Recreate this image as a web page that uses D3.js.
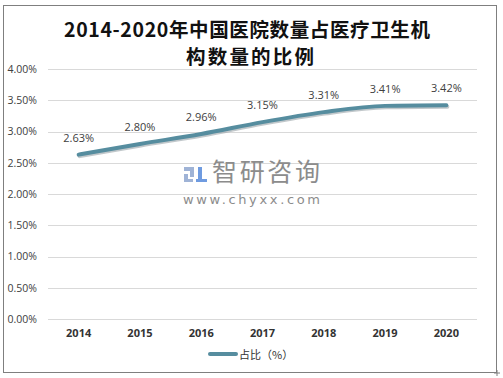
<!DOCTYPE html>
<html>
<head>
<meta charset="utf-8">
<script src="https://cdn.jsdelivr.net/npm/d3@7"></script>
<style>
  body { margin: 0; background: #fff; }
  svg { display: block; }
</style>
</head>
<body>
<div id="chart"></div>
<script>
// data
var years = ["2014", "2015", "2016", "2017", "2018", "2019", "2020"];
var ratio = [2.63, 2.80, 2.96, 3.15, 3.31, 3.41, 3.42];
var yTicks = [0, 0.5, 1, 1.5, 2, 2.5, 3, 3.5, 4];
var seriesName = "占比（%）";

var W = 503, H = 378;
var svg = d3.select("#chart").append("svg")
    .attr("width", W)
    .attr("height", H);

// outer frame
svg.append("rect")
    .attr("x", 3.5).attr("y", 5.5)
    .attr("width", 493).attr("height", 367)
    .attr("fill", "#fff")
    .attr("stroke", "#7f7f7f")
    .attr("stroke-width", 1);

// title, two lines
var title = svg.append("g")
    .attr("font-family", "'Noto Sans CJK SC', serif")
    .attr("font-weight", "bold")
    .attr("font-size", 19.5)
    .attr("fill", "#111")
    .attr("text-anchor", "middle");
title.append("text")
    .attr("x", 247).attr("y", 37)
    .attr("textLength", 366)
    .attr("lengthAdjust", "spacing")
    .text("2014-2020年中国医院数量占医疗卫生机");
title.append("text")
    .attr("x", 250).attr("y", 64)
    .attr("textLength", 128)
    .attr("lengthAdjust", "spacing")
    .text("构数量的比例");

var x = d3.scaleBand().domain(years).range([48, 477]);
var y = d3.scaleLinear().domain([0, 4]).range([319, 69]);

// gridlines
svg.append("g").selectAll("line")
    .data(yTicks)
  .enter().append("line")
    .attr("x1", 48).attr("x2", 477)
    .attr("y1", function(d) { return Math.round(y(d)) + 0.5; })
    .attr("y2", function(d) { return Math.round(y(d)) + 0.5; })
    .attr("stroke", "#d9d9d9")
    .attr("stroke-width", 1);

// y labels
var yAxis = d3.axisLeft(y)
    .tickValues(yTicks)
    .tickSize(0)
    .tickPadding(0)
    .tickFormat(function(d) { return d.toFixed(2) + "%"; });
var gy = svg.append("g")
    .attr("transform", "translate(37,0)")
    .call(yAxis);
gy.select(".domain").remove();
gy.selectAll("text")
    .attr("font-family", "'Open Sans', 'DejaVu Sans', sans-serif")
    .attr("font-size", 10.5)
    .attr("fill", "#404040");

// x labels
var xAxis = d3.axisBottom(x).tickSize(0).tickPadding(0);
var gx = svg.append("g")
    .attr("transform", "translate(0,329)")
    .call(xAxis);
gx.select(".domain").remove();
gx.selectAll("text")
    .attr("font-family", "'Open Sans', 'DejaVu Sans', sans-serif")
    .attr("font-weight", "bold")
    .attr("font-size", 11)
    .attr("fill", "#333");

// watermark
var wm = svg.append("g");
wm.append("rect").attr("x", 184).attr("y", 167).attr("width", 10).attr("height", 4).attr("fill", "#9fb3d6");
wm.append("rect").attr("x", 190).attr("y", 167).attr("width", 4).attr("height", 10).attr("fill", "#9fb3d6");
wm.append("rect").attr("x", 184).attr("y", 174).attr("width", 4).attr("height", 8).attr("fill", "#9fb3d6");
wm.append("rect").attr("x", 184).attr("y", 179).attr("width", 9).attr("height", 3).attr("fill", "#9fb3d6");
wm.append("rect").attr("x", 198).attr("y", 167).attr("width", 4).attr("height", 12).attr("fill", "#6f9be0");
wm.append("rect").attr("x", 196).attr("y", 179).attr("width", 11).attr("height", 3).attr("fill", "#6f9be0");
wm.append("text")
    .attr("x", 212).attr("y", 181)
    .attr("font-family", "'Noto Sans CJK SC', sans-serif")
    .attr("font-size", 25)
    .attr("fill", "#8c8c8c")
    .attr("textLength", 108)
    .text("智研咨询");
wm.append("text")
    .attr("x", 183).attr("y", 204)
    .attr("font-family", "'DejaVu Sans', sans-serif")
    .attr("font-size", 13)
    .attr("fill", "#8c8c8c")
    .attr("textLength", 137)
    .attr("lengthAdjust", "spacing")
    .text("www.chyxx.com");

// series line
var line = d3.line()
    .x(function(d, i) { return x(years[i]) + x.bandwidth() / 2; })
    .y(function(d) { return y(d); })
    .curve(d3.curveMonotoneX);

svg.append("path")
    .datum(ratio)
    .attr("d", line)
    .attr("transform", "translate(1,1.5)")
    .attr("fill", "none")
    .attr("stroke", "#9aa3a8")
    .attr("stroke-opacity", 0.6)
    .attr("stroke-width", 4)
    .attr("stroke-linecap", "round");
svg.append("path")
    .datum(ratio)
    .attr("d", line)
    .attr("fill", "none")
    .attr("stroke", "#568d9f")
    .attr("stroke-width", 4)
    .attr("stroke-linecap", "round");

// value labels
svg.append("g").selectAll("text")
    .data(ratio)
  .enter().append("text")
    .attr("x", function(d, i) { return x(years[i]) + x.bandwidth() / 2; })
    .attr("y", function(d) { return y(d) - 13; })
    .attr("text-anchor", "middle")
    .attr("font-family", "'Open Sans', 'DejaVu Sans', sans-serif")
    .attr("font-size", 11)
    .attr("fill", "#404040")
    .text(function(d) { return d.toFixed(2) + "%"; });

// legend
var lg = svg.append("g");
lg.append("line")
    .attr("x1", 210).attr("x2", 236)
    .attr("y1", 354).attr("y2", 354)
    .attr("stroke", "#568d9f")
    .attr("stroke-width", 4)
    .attr("stroke-linecap", "round");
lg.append("text")
    .attr("x", 239).attr("y", 358.5)
    .attr("font-family", "'Noto Sans CJK SC', sans-serif")
    .attr("font-size", 11)
    .attr("fill", "#333")
    .text(seriesName);

// little resize mark at the corner
svg.append("path")
    .attr("d", "M497,370 V376 M494,373 H500")
    .attr("stroke", "#7f7f7f")
    .attr("stroke-width", 1);
</script>
</body>
</html>
